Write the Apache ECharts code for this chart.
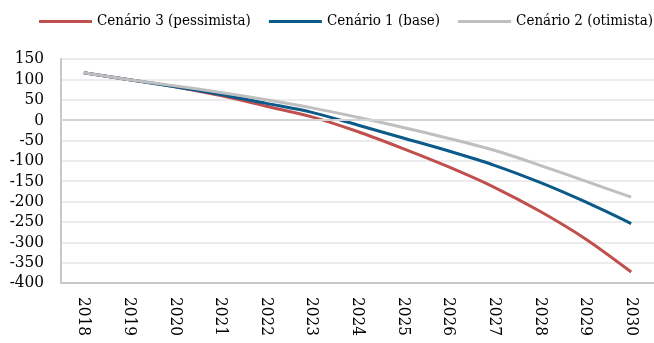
<!DOCTYPE html>
<html>
<head>
<meta charset="utf-8">
<script src="https://cdn.jsdelivr.net/npm/echarts@6/dist/echarts.min.js"></script>
<style>
  html, body { margin: 0; padding: 0; background: #fff; }
  #chart { width: 654px; height: 343px; }
</style>
</head>
<body>
<div id="chart"></div>
<script>
var anos = ['2018', '2019', '2020', '2021', '2022', '2023', '2024', '2025', '2026', '2027', '2028', '2029', '2030'];
var cenario3 = [116, 99, 82, 60, 34, 8, -28, -70, -115, -165, -224, -292, -373];
var cenario1 = [116, 99, 82, 63, 41, 19, -12, -44, -76, -111, -153, -201, -254];
var cenario2 = [116, 99, 84, 68, 50, 30, 7, -18, -45, -74, -111, -150, -189];

var fonte = '"DejaVu Serif Condensed", "DejaVu Serif", serif';

var myChart = echarts.init(document.getElementById('chart'));

var option = {
    animation: false,
    textStyle: { fontFamily: fonte },
    legend: {
        left: 39,
        top: 14,
        width: 640,
        padding: 0,
        itemWidth: 53,
        itemHeight: 3,
        itemGap: 18,
        icon: 'rect',
        textStyle: { fontFamily: fonte, fontSize: 15, color: '#000' },
        data: ['Cenário 3 (pessimista)', 'Cenário 1 (base)', 'Cenário 2 (otimista)']
    },
    grid: {
        left: 61,
        top: 59,
        width: 598,
        height: 224
    },
    xAxis: {
        type: 'category',
        data: anos,
        boundaryGap: true,
        axisLine: { onZero: false, lineStyle: { color: '#c8c8c8', width: 2 } },
        axisTick: { show: false },
        axisLabel: {
            rotate: -90,
            margin: 14,
            fontSize: 17,
            color: '#000',
            fontFamily: fonte
        }
    },
    yAxis: {
        type: 'value',
        min: -400,
        max: 150,
        interval: 50,
        axisLine: { show: true, lineStyle: { color: '#c8c8c8', width: 2 } },
        axisTick: { show: false },
        splitLine: { lineStyle: { color: '#ececec', width: 2 } },
        axisLabel: {
            margin: 17,
            fontSize: 17,
            color: '#000',
            fontFamily: fonte
        }
    },
    series: [
        {
            name: 'Cenário 3 (pessimista)',
            type: 'line',
            data: cenario3,
            smooth: 0.3,
            showSymbol: false,
            color: '#c0504d',
            lineStyle: { width: 3 },
            markLine: {
                silent: true,
                symbol: 'none',
                label: { show: false },
                lineStyle: { color: '#d4d4d4', width: 2, type: 'solid' },
                data: [{ yAxis: 0 }]
            }
        },
        {
            name: 'Cenário 1 (base)',
            type: 'line',
            data: cenario1,
            smooth: 0.3,
            showSymbol: false,
            color: '#0b5a89',
            lineStyle: { width: 3 }
        },
        {
            name: 'Cenário 2 (otimista)',
            type: 'line',
            data: cenario2,
            smooth: 0.3,
            showSymbol: false,
            color: '#bfbfbf',
            lineStyle: { width: 3 }
        }
    ]
};

myChart.setOption(option);
</script>
</body>
</html>
